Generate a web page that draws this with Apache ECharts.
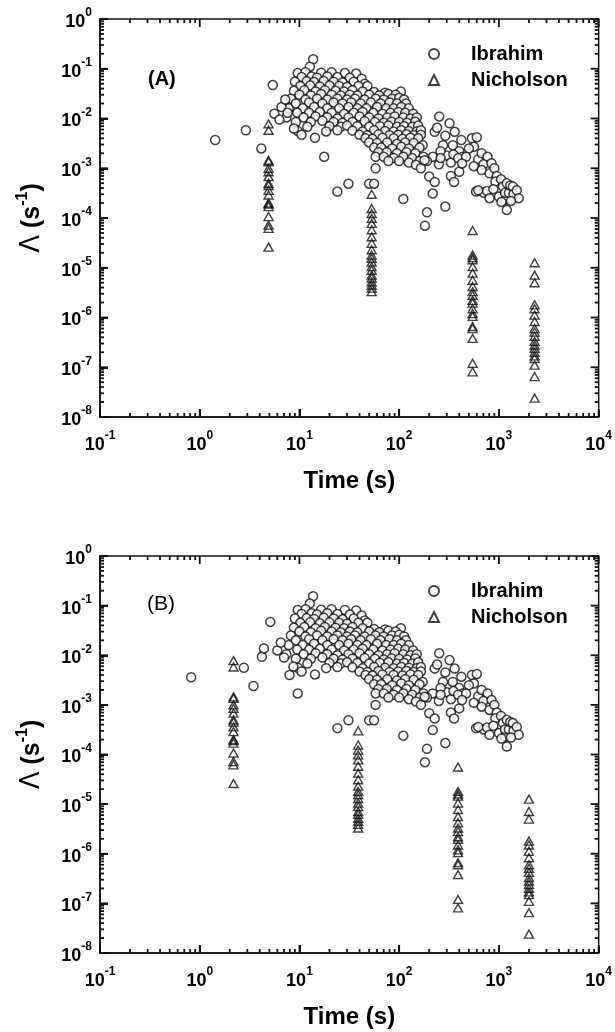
<!DOCTYPE html>
<html><head><meta charset="utf-8">
<script src="https://cdn.jsdelivr.net/npm/echarts@6/dist/echarts.min.js"></script>
<style>html,body{margin:0;padding:0;background:#fff}#c{width:615px;height:1032px}</style>
</head><body><div id="c"></div>
<script>
// ---------------- DATA ----------------
// Ibrahim data [time (s), Lambda (1/s)] common to both panels
const ibrahimShared = [
 [13.7,0.155],[12.7,0.11],
 [9.6,0.082],[11.5,0.085],[16.5,0.083],[21,0.085],[28.5,0.082],[37,0.08],
 [10.5,0.068],[13.2,0.07],[15,0.066],[19,0.07],[24,0.068],[32,0.066],[42,0.063],
 [9.0,0.055],[11.8,0.056],[14,0.054],[17.5,0.057],[22,0.055],[27,0.053],[35,0.055],[45,0.05],
 [10.2,0.045],[12.8,0.046],[16,0.044],[20,0.046],[25,0.045],[30,0.043],[39,0.045],[48,0.045],
 [8.8,0.036],[11.2,0.037],[14.5,0.035],[18,0.037],[23,0.036],[28,0.035],[34,0.037],[43,0.035],[56,0.034],[72,0.033],[104,0.035],
 [10,0.03],[13,0.029],[16.5,0.031],[21,0.03],[26,0.029],[32,0.03],[38,0.029],[50,0.03],[63,0.029],[78,0.031],[92,0.03],
 [8.2,0.025],[11.5,0.024],[15,0.025],[19,0.024],[24,0.025],[30,0.024],[36,0.025],[45,0.024],[58,0.025],[70,0.024],[85,0.025],[100,0.026],[112,0.024],
 [9.2,0.02],[12.5,0.021],[17,0.02],[22,0.021],[27,0.02],[33,0.021],[41,0.02],[52,0.021],[65,0.02],[80,0.021],[95,0.02],[117,0.02],
 [7.8,0.016],[10.8,0.016],[14,0.017],[19,0.016],[25,0.016],[31,0.017],[38,0.016],[47,0.016],[60,0.017],[74,0.016],[88,0.016],[105,0.017],[125,0.016],
 [9.5,0.013],[12.5,0.013],[16,0.0135],[21,0.013],[28,0.0125],[35,0.013],[43,0.0135],[55,0.013],[68,0.0125],[82,0.013],[98,0.0135],[115,0.013],[138,0.0125],
 [7.4,0.0105],[11,0.0105],[14.5,0.011],[19,0.0105],[24,0.01],[31,0.0105],[40,0.011],[50,0.0105],[62,0.01],[76,0.0105],[90,0.011],[110,0.0105],[130,0.01],[150,0.0105],
 [9.2,0.0085],[13,0.0085],[17,0.009],[22,0.0085],[27,0.0082],[34,0.0085],[45,0.0088],[57,0.0085],[70,0.0082],[84,0.0086],[100,0.0085],[120,0.0082],[145,0.0086],
 [12,0.0068],[20,0.007],[26,0.0068],[30,0.0072],[38,0.007],[50,0.0068],[64,0.007],[78,0.0072],[95,0.0068],[112,0.007],[135,0.0068],[155,0.0072],
 [9.6,0.0056],[18.5,0.0055],[24,0.0058],[34,0.0057],[43,0.0055],[56,0.0058],[72,0.0056],[88,0.0055],[105,0.0058],[125,0.0056],[150,0.0055],[165,0.0058],
 [10.5,0.0047],[40,0.0047],[48,0.0046],[62,0.0048],[80,0.0046],[98,0.0047],[118,0.0048],[140,0.0046],[165,0.0047],
 [14.3,0.0041],[46,0.004],[54,0.0039],[68,0.0041],[88,0.004],[108,0.0039],[130,0.0041],[155,0.004],
 [50,0.0033],[60,0.0032],[76,0.0033],[95,0.0031],[115,0.0033],[140,0.0032],[172,0.0029],
 [56,0.0026],[66,0.0026],[85,0.0025],[105,0.0027],[125,0.0025],[160,0.0026],
 [62,0.0021],[75,0.0021],[95,0.002],[118,0.0021],[145,0.002],
 [58,0.0017],[70,0.0017],[88,0.0016],[110,0.0017],[135,0.0016],[175,0.0017],[217,0.0017],
 [78,0.0014],[100,0.0014],[125,0.0013],[160,0.0014],[190,0.0014],
 [58,0.001],[147,0.00117],[165,0.001],[180,0.00145],
 [24,3.4e-4],[31,4.9e-4],[50,4.9e-4],[56,4.9e-4],[110,2.4e-4],[181,7e-5],[190,1.3e-4],[200,6.8e-4],[217,3.1e-4],[227,5.3e-4],[290,1.7e-4],[330,7e-4],[355,5.3e-4],[400,8.5e-4],
 [252,0.011],[320,0.008],[227,0.0054],[360,0.0054],[420,0.0037],[275,0.0029],[345,0.0029],[400,0.0022],[240,0.0065],[290,0.0045],[300,0.0018],[430,0.0017],[260,0.0022],[250,0.0012],[330,0.0013],[260,0.0016],[350,0.0019],[390,0.0016],
 [536,0.004],[600,0.0042],[561,0.0027],[500,0.0025],[468,0.0017],[427,0.00125],[620,0.0015],[560,0.0011],[671,0.002],[769,0.0017],[700,0.0012],[842,0.00126],[671,9.2e-4],[805,7.9e-4],[900,0.001],[950,7e-4],[922,5.4e-4],[1050,6e-4],[1100,4.3e-4],[1200,5e-4],[590,3.4e-4],[705,3.2e-4],[620,3.6e-4],[760,3.5e-4],[805,2.5e-4],[880,3.8e-4],[1000,2.7e-4],[1150,2.3e-4],[1150,3.2e-4],[1260,3.2e-4],[1300,4.5e-4],[1380,4.3e-4],[1400,3e-4],[1510,3.6e-4],[1580,2.5e-4],[1320,2.2e-4],[1200,1.45e-4],[1060,2.1e-4]
];
// Ibrahim points that differ between panels (early times)
const ibrahimEarlyA = [[1.43,0.0037],[2.9,0.0058],[4.15,0.0025],[5.4,0.047],[5.6,0.0125],[6.3,0.0095],[6.6,0.017],[7.2,0.024],[7.6,0.013],[8.8,0.0063],[17.7,0.0017]];
const ibrahimEarlyB = [[0.82,0.0036],[2.77,0.0056],[3.46,0.0024],[4.2,0.0093],[4.4,0.0137],[5.1,0.047],[6.0,0.0125],[6.5,0.018],[7.0,0.009],[7.95,0.004],[8.7,0.0059],[9.6,0.0017]];

// Nicholson: times of the four columns in each panel
const nicholsonTimesA = [4.9, 53, 545, 2280];
const nicholsonTimesB = [2.18, 38.8, 389, 2000];
// Nicholson Lambda values per column
const nicholsonCol1 = [7.8e-3,5.8e-3,1.45e-3,1.35e-3,1.0e-3,8.5e-4,6.8e-4,5.0e-4,4.5e-4,3.6e-4,2.9e-4,2.0e-4,1.9e-4,1.7e-4,1.07e-4,7.2e-5,6.2e-5,2.6e-5];
const nicholsonCol2 = [3.0e-4,1.55e-4,1.23e-4,9.8e-5,7.8e-5,5.8e-5,4.2e-5,3.1e-5,2.3e-5,1.8e-5,1.55e-5,1.3e-5,1.05e-5,8.9e-6,7.1e-6,6.2e-6,5.2e-6,4.5e-6,3.9e-6,3.3e-6];
const nicholsonCol3 = [5.6e-5,1.8e-5,1.6e-5,1.45e-5,1.05e-5,7.8e-6,5.6e-6,4.2e-6,3.3e-6,2.8e-6,2.2e-6,1.95e-6,1.5e-6,1.2e-6,1.05e-6,6.6e-7,6.0e-7,3.8e-7,1.2e-7,8.1e-8];
const nicholsonCol4 = [1.26e-5,7.1e-6,5.0e-6,1.8e-6,1.5e-6,1.12e-6,8.3e-7,6.0e-7,5.1e-7,4.2e-7,3.3e-7,2.8e-7,2.4e-7,2.0e-7,1.7e-7,1.5e-7,1.1e-7,6.5e-8,2.4e-8];

const xRange = [0.1, 10000];
const yRange = [1e-8, 1];
const seriesNames = ['Ibrahim', 'Nicholson'];
const panelLabels = ['(A)', '(B)'];
const xTitle = 'Time (s)';

// ---------------- CHART ----------------
const FONT = '"Liberation Sans", Arial, sans-serif';
const INK = '#111';
const supRich = {
  b: {fontFamily: FONT, fontSize: 18, fontWeight: 'bold', color: '#000', lineHeight: 24, verticalAlign: 'bottom'},
  s: {fontFamily: FONT, fontSize: 12, fontWeight: 'bold', color: '#000', lineHeight: 16, verticalAlign: 'top'}
};
function expLabel(v) {
  const e = Math.round(Math.log10(v));
  return '{b|10}{s|' + e + '}';
}
const nameRich = {
  l: {fontFamily: '"DejaVu Sans", sans-serif', fontSize: 26, fontWeight: 'normal', color: '#000', lineHeight: 30, verticalAlign: 'bottom'},
  b: {fontFamily: FONT, fontSize: 25, fontWeight: 'bold', color: '#000', lineHeight: 30, verticalAlign: 'bottom'},
  s: {fontFamily: FONT, fontSize: 16, fontWeight: 'bold', color: '#000', lineHeight: 18, verticalAlign: 'top'}
};

const grids = [
  {left: 100, top: 19, width: 499, height: 398},
  {left: 100, top: 556, width: 499, height: 397}
].map(g => Object.assign(g, {show: true, borderColor: INK, borderWidth: 1.5}));

// tick positions (decades and 2..9 within each decade), derived from the axis range
function tickValues(range, minor) {
  const lo = Math.round(Math.log10(range[0])), hi = Math.round(Math.log10(range[1]));
  const out = [];
  for (let e = lo; e <= hi; e++) {
    const d = Math.pow(10, e);
    if (!minor) out.push(d);
    else if (e < hi) for (let k = 2; k <= 9; k++) out.push(Number((k * d).toPrecision(3)));
  }
  return out;
}

function mkAxis(g, pos, range, extra) {
  return Object.assign({
    type: 'log', gridIndex: g, position: pos, min: range[0], max: range[1],
    axisLine: {show: true, onZero: false, lineStyle: {color: INK, width: 1.5}},
    axisTick: {show: true, inside: true, length: 8, lineStyle: {color: INK, width: 2}},
    minorTick: {show: false},
    splitLine: {show: false},
    axisLabel: {show: true, formatter: expLabel, rich: supRich, color: '#000'}
  }, extra || {});
}

const xAxes = [], yAxes = [];
for (let g = 0; g < 2; g++) {
  const xa = mkAxis(g, 'bottom', xRange, {name: xTitle, nameLocation: 'middle', nameGap: 52,
      nameTextStyle: {fontFamily: FONT, fontSize: 24, fontWeight: 'bold', color: '#000'}});
  xa.axisLabel.margin = 13;
  const ya = mkAxis(g, 'left', yRange, {name: '{l|\u039B}{b| (s}{s|-1}{b|)}', nameLocation: 'middle', nameRotate: 90, nameGap: 55,
      nameTextStyle: {rich: nameRich}});
  ya.axisLabel.margin = 8;
  xAxes.push(xa);
  yAxes.push(ya);
}

function nicholsonData(times) {
  const cols = [nicholsonCol1, nicholsonCol2, nicholsonCol3, nicholsonCol4];
  const out = [];
  cols.forEach((col, i) => col.forEach(v => out.push([times[i], v])));
  return out;
}

const circleStyle = {color: '#fff', borderColor: '#111', borderWidth: 1.5};
const triStyle = {color: 'rgba(255,255,255,0)', borderColor: '#111', borderWidth: 1.4};

const series = [];
const ibrahimSets = [ibrahimShared.concat(ibrahimEarlyA), ibrahimShared.concat(ibrahimEarlyB)];
const nichTimes = [nicholsonTimesA, nicholsonTimesB];
for (let g = 0; g < 2; g++) {
  series.push({type: 'scatter', name: seriesNames[0], xAxisIndex: g, yAxisIndex: g, data: ibrahimSets[g],
    symbol: 'circle', symbolSize: 9, itemStyle: circleStyle, z: 2});
  series.push({type: 'scatter', name: seriesNames[1], xAxisIndex: g, yAxisIndex: g, data: nicholsonData(nichTimes[g]),
    symbol: 'triangle', symbolSize: [9, 8], itemStyle: triStyle, z: 3});
}

const legends = [39, 576].map(top => ({
  left: 423, top: top, orient: 'vertical', itemWidth: 10, itemHeight: 10, itemGap: 6, selectedMode: false,
  data: [{name: seriesNames[0], icon: 'circle'}, {name: seriesNames[1], icon: 'triangle'}],
  textStyle: {fontFamily: FONT, fontSize: 20, fontWeight: 'bold', color: '#000', padding: [0, 0, 0, 27]}
}));

const titles = [
  {text: panelLabels[0], left: 148, top: 69, textStyle: {fontFamily: FONT, fontSize: 20, fontWeight: 'bold', color: '#000'}, padding: 0},
  {text: panelLabels[1], left: 147, top: 594, textStyle: {fontFamily: FONT, fontSize: 21, fontWeight: 'normal', color: '#000'}, padding: 0}
];

const chart = echarts.init(document.getElementById('c'));
chart.setOption({
  animation: false,
  title: titles,
  legend: legends,
  grid: grids,
  xAxis: xAxes,
  yAxis: yAxes,
  series: series
});

// inward major/minor tick marks on all four sides, placed through each grid's own log scales
const tickEls = [];
const tickStyle = {stroke: INK, lineWidth: 1.8};
for (let g = 0; g < 2; g++) {
  [false, true].forEach(minor => {
    const len = minor ? 4 : 8;
    tickValues(xRange, minor).forEach(v => {
      const pb = chart.convertToPixel({gridIndex: g}, [v, yRange[0]]);
      const pt = chart.convertToPixel({gridIndex: g}, [v, yRange[1]]);
      tickEls.push({type: 'line', silent: true, z: 50, shape: {x1: pb[0], y1: pb[1], x2: pb[0], y2: pb[1] - len}, style: tickStyle});
      tickEls.push({type: 'line', silent: true, z: 50, shape: {x1: pt[0], y1: pt[1], x2: pt[0], y2: pt[1] + len}, style: tickStyle});
    });
    tickValues(yRange, minor).forEach(v => {
      const pl = chart.convertToPixel({gridIndex: g}, [xRange[0], v]);
      const pr = chart.convertToPixel({gridIndex: g}, [xRange[1], v]);
      tickEls.push({type: 'line', silent: true, z: 50, shape: {x1: pl[0], y1: pl[1], x2: pl[0] + len, y2: pl[1]}, style: tickStyle});
      tickEls.push({type: 'line', silent: true, z: 50, shape: {x1: pr[0], y1: pr[1], x2: pr[0] - len, y2: pr[1]}, style: tickStyle});
    });
  });
}
chart.setOption({graphic: {elements: tickEls}});
</script>
</body></html>
